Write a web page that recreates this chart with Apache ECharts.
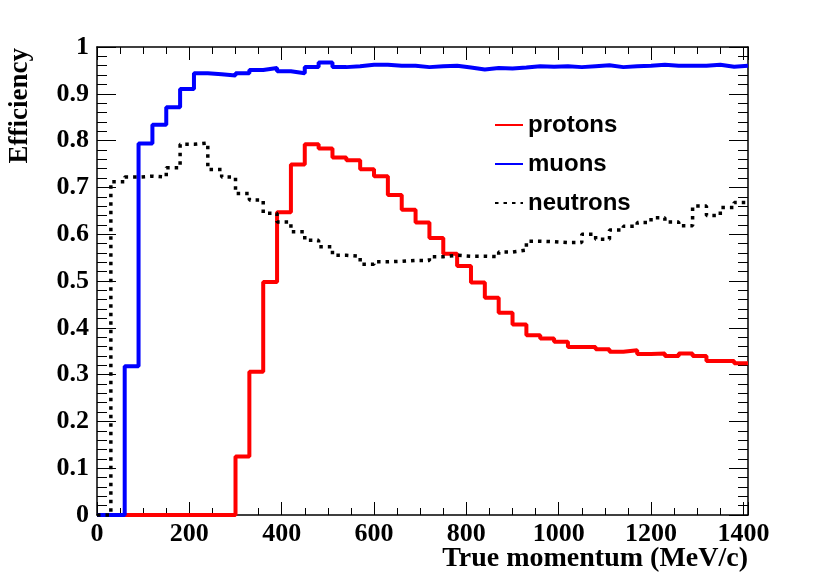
<!DOCTYPE html>
<html>
<head>
<meta charset="utf-8">
<title>efficiency</title>
<script src="https://cdn.jsdelivr.net/npm/echarts@6/dist/echarts.min.js"></script>
<style>
html, body { margin: 0; padding: 0; background: #fff; }
#main { width: 814px; height: 586px; }
</style>
</head>
<body>
<div id="main"></div>
<script>
// bin edges (MeV/c), 47 bins of 30
var binEdges = [0, 30, 60, 90, 120, 150, 180, 210, 240, 270, 300, 330, 360, 390, 420, 450,
    480, 510, 540, 570, 600, 630, 660, 690, 720, 750, 780, 810, 840, 870, 900, 930, 960,
    990, 1020, 1050, 1080, 1110, 1140, 1170, 1200, 1230, 1260, 1290, 1320, 1350, 1380, 1410];

var protons = [0, 0, 0, 0, 0, 0, 0, 0, 0, 0,
    0.125, 0.306, 0.498, 0.647, 0.749, 0.792, 0.783, 0.764, 0.758, 0.739,
    0.724, 0.684, 0.652, 0.625, 0.592, 0.558, 0.532, 0.497, 0.464, 0.432,
    0.407, 0.384, 0.377, 0.370, 0.359, 0.359, 0.354, 0.349, 0.352, 0.344,
    0.345, 0.340, 0.345, 0.340, 0.329, 0.329, 0.324];

var muons = [0, 0, 0.318, 0.794, 0.834, 0.871, 0.910, 0.944, 0.942, 0.939,
    0.944, 0.951, 0.955, 0.948, 0.944, 0.957, 0.967, 0.957, 0.959, 0.962,
    0.962, 0.960, 0.960, 0.957, 0.959, 0.960, 0.956, 0.952, 0.955, 0.954,
    0.956, 0.959, 0.958, 0.959, 0.957, 0.959, 0.961, 0.957, 0.959, 0.960,
    0.962, 0.960, 0.960, 0.960, 0.962, 0.958, 0.960];

var neutrons = [0, 0.712, 0.722, 0.724, 0.722, 0.742, 0.792, 0.795, 0.738, 0.722,
    0.687, 0.673, 0.645, 0.626, 0.605, 0.587, 0.573, 0.555, 0.553, 0.536,
    0.541, 0.542, 0.544, 0.544, 0.552, 0.555, 0.553, 0.553, 0.552, 0.562,
    0.566, 0.585, 0.584, 0.582, 0.582, 0.600, 0.589, 0.609, 0.617, 0.625,
    0.635, 0.626, 0.618, 0.660, 0.640, 0.657, 0.668];

// histogram -> step points (left edge of each bin, plus closing point)
function histPoints(vals) {
    var pts = [];
    for (var i = 0; i < vals.length; i++) {
        pts.push([binEdges[i], vals[i]]);
    }
    pts.push([binEdges[vals.length], vals[vals.length - 1]]);
    return pts;
}

var serif = 'Liberation Serif';
var tickStyle = {color: '#000', width: 1};

function xAx(pos) {
    return {
        type: 'value', position: pos, min: 0, max: 1410, interval: 200,
        axisLine: {onZero: false, lineStyle: {color: '#000', width: 1.5}},
        axisTick: {inside: true, length: 13, lineStyle: tickStyle},
        minorTick: {show: true, splitNumber: 4, length: 7, lineStyle: tickStyle},
        splitLine: {show: false},
        axisLabel: {show: false}
    };
}
function yAx(pos) {
    return {
        type: 'value', position: pos, min: 0, max: 1, interval: 0.1,
        axisLine: {onZero: false, lineStyle: {color: '#000', width: 1.5}},
        axisTick: {inside: true, length: 19, lineStyle: tickStyle},
        minorTick: {show: true, splitNumber: 5, length: 10, lineStyle: tickStyle},
        splitLine: {show: false},
        axisLabel: {show: false}
    };
}

var xBottom = xAx('bottom');
xBottom.axisLabel = {
    show: true, margin: 6, color: '#000', fontFamily: serif, fontWeight: 'bold', fontSize: 26,
    formatter: function (v) { return v % 200 === 0 ? String(v) : ''; }
};

var yLeft = yAx('left');
yLeft.axisLabel = {
    show: true, margin: 8, color: '#000', fontFamily: serif, fontWeight: 'bold', fontSize: 26
};
yLeft.name = 'Efficiency';
yLeft.nameLocation = 'end';
yLeft.nameRotate = 90;
yLeft.nameGap = -1;
yLeft.nameTextStyle = {
    color: '#000', fontFamily: serif, fontWeight: 'bold', fontSize: 27,
    align: 'right', verticalAlign: 'bottom', padding: [0, 0, 63, 0]
};

var chart = echarts.init(document.getElementById('main'));
var option = {
    animation: false,
    backgroundColor: '#fff',
    grid: {left: 97, right: 66, top: 47, bottom: 71, containLabel: false, outerBoundsMode: 'none'},
    legend: {
        orient: 'vertical', left: 494, top: 113, padding: 0,
        itemWidth: 28, itemHeight: 14, itemGap: 15,
        itemStyle: {opacity: 0},
        textStyle: {color: '#000', fontFamily: 'Liberation Sans', fontWeight: 'bold', fontSize: 24, lineHeight: 24},
        data: ['protons', 'muons', 'neutrons']
    },
    // x axis title, right-aligned under the frame as in the original
    graphic: [{
        type: 'text', right: 66, top: 545,
        style: {
            text: 'True momentum (MeV/c)', fill: '#000',
            font: 'bold 28px "Liberation Serif"'
        }
    }],
    xAxis: [xBottom, xAx('top')],
    yAxis: [yLeft, yAx('right')],
    series: [
        {
            name: 'protons', type: 'line', step: 'end', symbol: 'none', clip: false,
            data: histPoints(protons),
            itemStyle: {color: '#ff0000'},
            lineStyle: {color: '#ff0000', width: 4}
        },
        {
            name: 'muons', type: 'line', step: 'end', symbol: 'none', clip: false,
            data: histPoints(muons),
            itemStyle: {color: '#0000ff'},
            lineStyle: {color: '#0000ff', width: 4}
        },
        {
            name: 'neutrons', type: 'line', step: 'end', symbol: 'none', clip: false,
            data: histPoints(neutrons),
            itemStyle: {color: '#000'},
            lineStyle: {color: '#000', width: 3.5, type: [3.5, 5]}
        }
    ]
};
chart.setOption(option);
</script>
</body>
</html>
